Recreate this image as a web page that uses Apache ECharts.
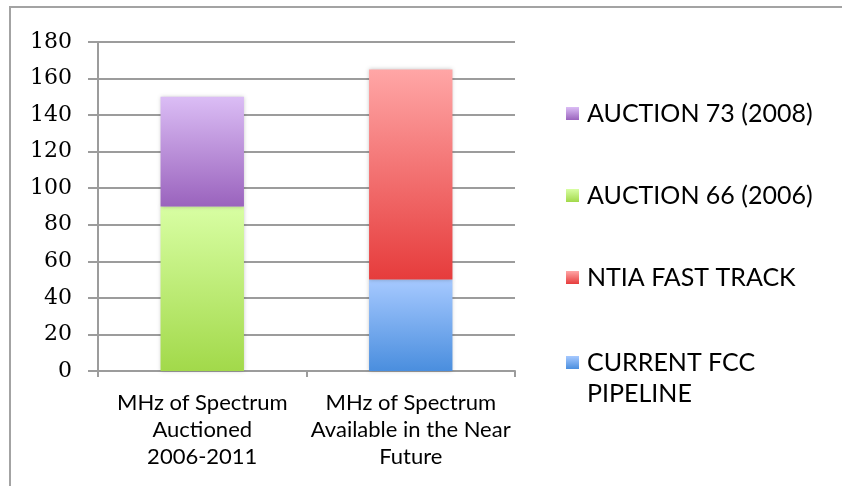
<!DOCTYPE html>
<html>
<head>
<meta charset="utf-8">
<script src="https://cdn.jsdelivr.net/npm/echarts@6/dist/echarts.min.js"></script>
<style>
  html, body { margin: 0; padding: 0; background: #fff; }
  #chart { width: 842px; height: 486px; }
</style>
</head>
<body>
<div id="chart"></div>
<script>
// Spectrum (MHz) by source, stacked per category
const categories = [
  'MHz of Spectrum\nAuctioned\n2006-2011',
  'MHz of Spectrum\nAvailable in the Near\nFuture'
];
const currentFccPipeline = [null, 50];
const ntiaFastTrack = [null, 115];
const auction66 = [90, null];
const auction73 = [60, null];
const yTicks = { min: 0, max: 180, step: 20 };

const names = {
  pipeline: 'CURRENT FCC PIPELINE',
  ntia: 'NTIA FAST TRACK',
  a66: 'AUCTION 66 (2006)',
  a73: 'AUCTION 73 (2008)'
};

function grad(top, bottom) {
  return new echarts.graphic.LinearGradient(0, 0, 0, 1, [
    { offset: 0, color: top },
    { offset: 1, color: bottom }
  ]);
}

function barSeries(name, data, top, bottom) {
  return {
    name: name,
    type: 'bar',
    stack: 'total',
    barWidth: '40%',
    data: data,
    itemStyle: {
      color: grad(top, bottom),
      shadowBlur: 4,
      shadowColor: 'rgba(0,0,0,0.22)'
    },
    emphasis: { disabled: true }
  };
}

const chart = echarts.init(document.getElementById('chart'), null, { renderer: 'canvas' });
const gridColor = '#9c9c9c';
const legendText = {
  fontFamily: 'Lato', fontSize: 25, color: '#000',
  lineHeight: 31, padding: [0, 0, 0, 3]
};

chart.setOption({
  animation: false,
  backgroundColor: '#ffffff',
  graphic: [{
    type: 'rect',
    shape: { x: 10, y: 7, width: 900, height: 600 },
    style: { fill: 'none', stroke: '#a3a3a3', lineWidth: 2 },
    silent: true,
    z: -1
  }],
  grid: { left: 98, right: 327, top: 42, bottom: 115 },
  legend: [{
    orient: 'vertical',
    left: 566,
    top: 98,
    padding: 0,
    itemWidth: 13,
    itemHeight: 13,
    itemGap: 51,
    icon: 'rect',
    data: [names.a73, names.a66, names.ntia],
    textStyle: legendText,
    selectedMode: false
  }, {
    orient: 'vertical',
    left: 566,
    top: 316,
    padding: 0,
    itemWidth: 13,
    itemHeight: 13,
    icon: 'rect',
    data: [names.pipeline],
    // leading blank line keeps the swatch level with the first text line
    formatter: function () { return '\nCURRENT FCC\nPIPELINE'; },
    textStyle: legendText,
    selectedMode: false
  }],
  xAxis: {
    type: 'category',
    data: categories,
    axisLine: { show: true, lineStyle: { color: gridColor, width: 2 } },
    axisTick: { show: true, length: 6, lineStyle: { color: gridColor, width: 2 } },
    axisLabel: {
      fontFamily: 'Lato', fontSize: 22, color: '#000',
      lineHeight: 27, margin: 18, interval: 0
    }
  },
  yAxis: {
    type: 'value',
    min: yTicks.min,
    max: yTicks.max,
    interval: yTicks.step,
    axisLine: { show: true, lineStyle: { color: gridColor, width: 2 } },
    axisTick: { show: true, length: 10, lineStyle: { color: gridColor, width: 2 } },
    splitLine: { show: true, lineStyle: { color: gridColor, width: 2 } },
    axisLabel: {
      fontFamily: 'DejaVu Serif', fontSize: 22, color: '#000', margin: 26
    }
  },
  series: [
    barSeries(names.pipeline, currentFccPipeline, '#a6c9ff', '#4a8ede'),
    barSeries(names.ntia, ntiaFastTrack, '#ffa6a6', '#e63c3c'),
    barSeries(names.a66, auction66, '#d8fea3', '#a2d94a'),
    barSeries(names.a73, auction73, '#dbbdf5', '#9a63bd')
  ]
});
</script>
</body>
</html>
